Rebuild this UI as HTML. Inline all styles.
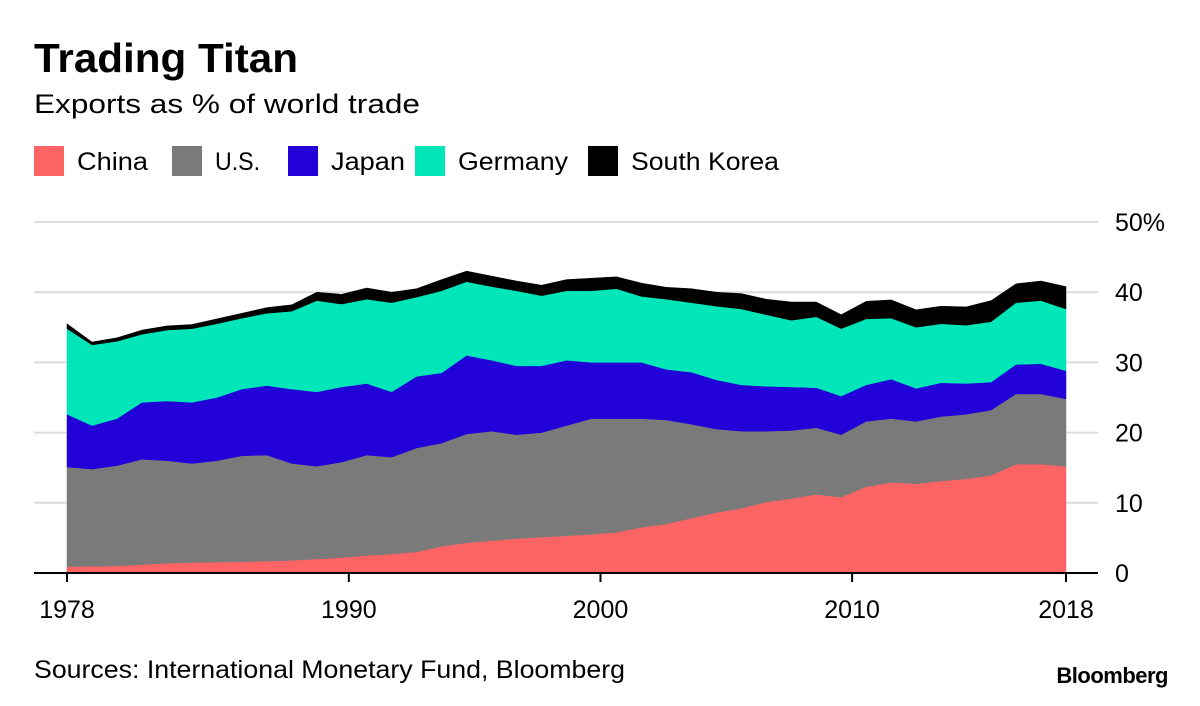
<!DOCTYPE html>
<html><head><meta charset="utf-8"><style>
body{margin:0;background:#fff;width:1200px;height:701px;overflow:hidden;font-family:"Liberation Sans",sans-serif;}
svg text{font-family:"Liberation Sans",sans-serif;}
</style></head><body>
<svg width="1200" height="701">
<text x="34" y="72" font-size="41" font-weight="bold" fill="#000" textLength="264" lengthAdjust="spacingAndGlyphs">Trading Titan</text>
<text x="34" y="113" font-size="27" fill="#000" textLength="386" lengthAdjust="spacingAndGlyphs">Exports as % of world trade</text>
<g id="legend"></g>
<g id="grid"></g>
<g id="areas"></g>
<g id="axes"></g>
<text x="34" y="678" font-size="25" fill="#000" textLength="591" lengthAdjust="spacingAndGlyphs">Sources: International Monetary Fund, Bloomberg</text>
<text x="1168" y="683" font-size="22" font-weight="bold" text-anchor="end" fill="#000" letter-spacing="-0.5">Bloomberg</text>
</svg>
<script>
const years = [];
for (let y = 1978; y <= 2018; y++) years.push(y);
const seriesNames = ["China","U.S.","Japan","Germany","South Korea"];
const seriesColors = ["#ff6464","#7a7a7a","#2200d8","#00e6b8","#000000"];
const china = [0.9,0.95,1.0,1.2,1.4,1.5,1.55,1.6,1.7,1.8,2.0,2.2,2.5,2.7,3.0,3.8,4.3,4.6,4.9,5.1,5.3,5.5,5.8,6.5,7.0,7.8,8.6,9.2,10.1,10.6,11.2,10.8,12.3,12.9,12.7,13.1,13.4,13.9,15.5,15.5,15.2];
const us = [14.2,13.85,14.3,15.0,14.6,14.1,14.45,15.1,15.1,13.8,13.2,13.6,14.3,13.8,14.8,14.7,15.5,15.6,14.8,14.9,15.7,16.5,16.2,15.5,14.8,13.4,11.9,11.0,10.1,9.7,9.5,8.9,9.3,9.1,8.9,9.2,9.2,9.3,10.0,10.0,9.6];
const japan = [7.5,6.2,6.7,8.1,8.5,8.7,9.0,9.5,9.9,10.6,10.6,10.7,10.2,9.3,10.2,10.0,11.2,10.1,9.8,9.5,9.3,8.0,8.0,8.0,7.2,7.4,7.0,6.6,6.4,6.2,5.7,5.5,5.2,5.6,4.7,4.8,4.4,4.0,4.2,4.3,4.0];
const germany = [12.2,11.5,11.0,9.7,10.1,10.5,10.5,10.1,10.3,11.1,13.0,11.8,12.0,12.7,11.3,11.7,10.5,10.5,10.7,10.0,9.9,10.2,10.5,9.4,10.0,9.9,10.5,10.8,10.2,9.5,10.1,9.6,9.4,8.7,8.7,8.4,8.3,8.6,8.8,9.0,8.8];
const southKorea = [0.7,0.4,0.5,0.6,0.6,0.6,0.7,0.7,0.8,0.9,1.2,1.4,1.6,1.5,1.2,1.6,1.5,1.5,1.4,1.5,1.6,1.8,1.7,1.9,1.7,2.0,2.0,2.2,2.2,2.6,2.1,2.0,2.5,2.6,2.5,2.5,2.6,3.0,2.7,2.8,3.2];
const yTicks = [0,10,20,30,40,50];
const yTickLabels = ["0","10","20","30","40","50%"];
const xTicks = [1990,2000,2010];
const xEndLabels = ["1978","2018"];

const NS = "http://www.w3.org/2000/svg";
const X0 = 67, X1 = 1066, Y0 = 573, Y50 = 222;
const D0 = 1978.8, D1 = 2018.5;
const xScale = v => X0 + (v - D0) / (D1 - D0) * (X1 - X0);
const dataX = i => X0 + i / (years.length - 1) * (X1 - X0);
const yScale = v => Y0 - v / 50 * (Y0 - Y50);
function mk(tag, attrs, parent){const e=document.createElementNS(NS,tag);for(const k in attrs)e.setAttribute(k,attrs[k]);parent.appendChild(e);return e;}

// legend
const lg = document.getElementById('legend');
const legendX = [34,172,288,415,588];
const legendW = [71,45,74,110,148];
seriesNames.forEach((n,i)=>{
  const g = mk('g',{},lg);
  
  
  mk('rect',{x:legendX[i],y:146,width:30,height:30,fill:seriesColors[i]},g);
  const t = mk('text',{x:legendX[i]+43,y:170,'font-size':25,fill:'#000',textLength:legendW[i],lengthAdjust:'spacingAndGlyphs'},g);
  t.textContent = n;
});

// grid
const grid = document.getElementById('grid');
yTicks.forEach((v,i)=>{
  if (v>0){
    const l = mk('line',{x1:34,x2:1098,y1:yScale(v),y2:yScale(v),stroke:'#dcdcdc','stroke-width':2},grid);
    
    
  }
  const t = mk('text',{x:1115,y:yScale(v)+9,'font-size':25,fill:'#000'},grid);
  
  
  t.textContent = yTickLabels[i];
});

// stacked areas
const all = [china,us,japan,germany,southKorea];
const areas = document.getElementById('areas');
let base = years.map(()=>0);
all.forEach((s,si)=>{
  const top = base.map((b,i)=>b+s[i]);
  let d = '';
  years.forEach((yr,i)=>{ d += (i?'L':'M') + dataX(i).toFixed(1) + ',' + yScale(top[i]).toFixed(1); });
  for (let i=years.length-1;i>=0;i--) d += 'L' + dataX(i).toFixed(1) + ',' + yScale(base[i]).toFixed(1);
  d += 'Z';
  const p = mk('path',{d:d,fill:seriesColors[si],stroke:seriesColors[si],'stroke-width':0.5},areas);
  
  
  base = top;
});

// axes
const ax = document.getElementById('axes');
const bl = mk('line',{x1:34,x2:1098,y1:Y0,y2:Y0,stroke:'#000','stroke-width':2},ax);


function tick(xp, label, name){
  const tk = mk('line',{x1:xp,x2:xp,y1:Y0,y2:Y0+9,stroke:'#000','stroke-width':2},ax);
  
  
  const t = mk('text',{x:xp,y:Y0+45,'font-size':25,'text-anchor':'middle',fill:'#000'},ax);
  
  
  t.textContent = label;
}
tick(X0, xEndLabels[0], 'start');
xTicks.forEach(v=>tick(xScale(v), String(v), v));
tick(X1, xEndLabels[1], 'end');
</script>
</body></html>
